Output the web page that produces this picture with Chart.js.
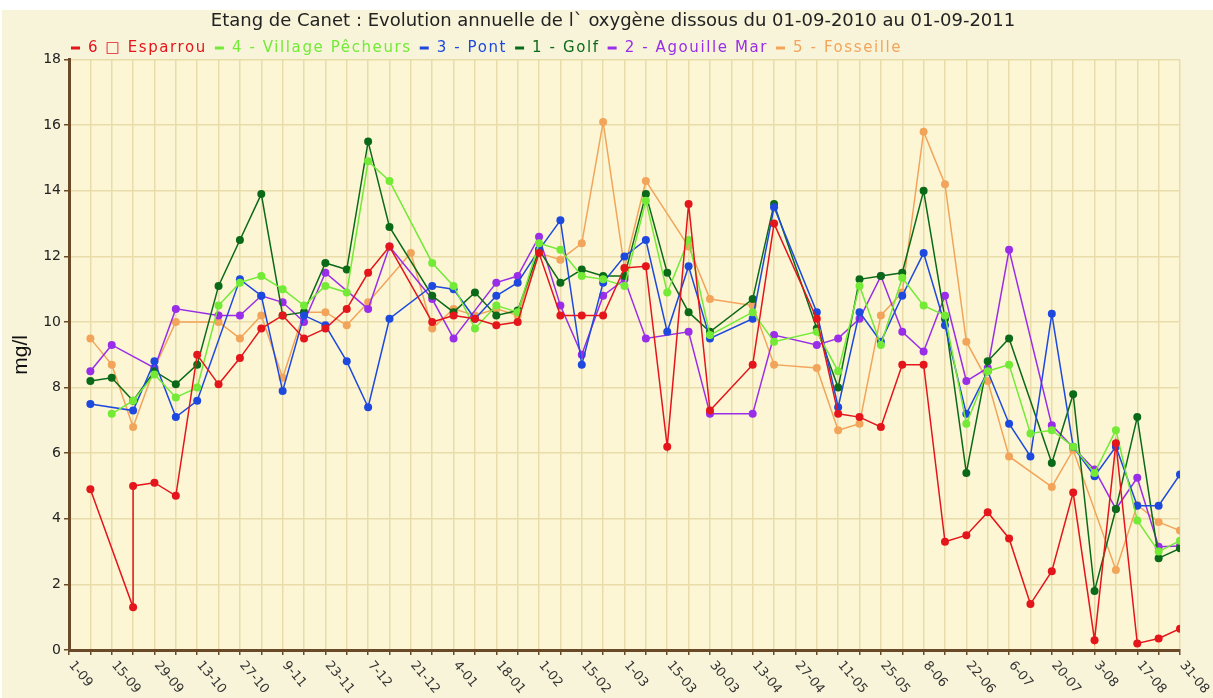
<!DOCTYPE html>
<html>
<head>
<meta charset="utf-8">
<script src="https://cdn.jsdelivr.net/npm/chart.js@4.4.1/dist/chart.umd.min.js"></script>
<style>
html, body { margin: 0; padding: 0; background: #ffffff; }
#wrap { width: 1213px; height: 698px; }
</style>
</head>
<body>
<div id="wrap"><canvas id="oxygenChart" width="1213" height="698"></canvas></div>
<script>
// Libellés de l'axe des x (un toutes les deux positions)
const dateLabels = [
    '1-09', '15-09', '29-09', '13-10', '27-10', '9-11', '23-11', '7-12', '21-12',
    '4-01', '18-01', '1-02', '15-02', '1-03', '15-03', '30-03', '13-04', '27-04',
    '11-05', '25-05', '8-06', '22-06', '6-07', '20-07', '3-08', '17-08', '31-08'
];

// Valeurs par station, positions 1 à 52 (null = pas de mesure, [a, b] = deux mesures)
const esparrou = [
    4.9, null, [1.3, 5.0], 5.1, 4.7, 9.0, 8.1, 8.9, 9.8, 10.2,
    9.5, 9.8, 10.4, 11.5, 12.3, null, 10.0, 10.2, 10.1, 9.9,
    10.0, 12.1, 10.2, 10.2, 10.2, 11.65, 11.7, 6.2, 13.6, 7.3,
    null, 8.7, 13.0, null, 10.1, 7.2, 7.1, 6.8, 8.7, 8.7,
    3.3, 3.5, 4.2, 3.4, 1.4, 2.4, 4.8, 0.3, 6.3, 0.2,
    0.35, 0.65
];
const villagePecheurs = [
    null, 7.2, 7.6, 8.4, 7.7, 8.0, 10.5, 11.2, 11.4, 11.0,
    10.5, 11.1, 10.9, 14.9, 14.3, null, 11.8, 11.1, 9.8, 10.5,
    10.3, 12.4, 12.2, 11.4, 11.3, 11.1, 13.7, 10.9, 12.5, 9.6,
    null, 10.3, 9.4, null, 9.7, 8.5, 11.1, 9.3, 11.35, 10.5,
    10.2, 6.9, 8.5, 8.7, 6.6, 6.7, 6.2, 5.4, 6.7, 3.95,
    3.0, 3.33
];
const pont = [
    7.5, null, 7.3, 8.8, 7.1, 7.6, null, 11.3, 10.8, 7.9,
    10.2, 9.9, 8.8, 7.4, 10.1, null, 11.1, 11.0, 10.1, 10.8,
    11.2, 12.2, 13.1, 8.7, 11.2, 12.0, 12.5, 9.7, 11.7, 9.5,
    null, 10.1, 13.5, null, 10.3, 7.4, 10.3, 9.4, 10.8, 12.1,
    9.9, 7.2, 8.5, 6.9, 5.9, 10.25, 6.2, 5.3, 6.2, 4.4,
    4.4, 5.35
];
const golf = [
    8.2, 8.3, 7.6, 8.5, 8.1, 8.7, 11.1, 12.5, 13.9, 10.2,
    10.3, 11.8, 11.6, 15.5, 12.9, null, 10.8, 10.3, 10.9, 10.2,
    10.35, 12.2, 11.2, 11.6, 11.4, 11.4, 13.9, 11.5, 10.3, 9.7,
    null, 10.7, 13.6, null, 9.8, 8.0, 11.3, 11.4, 11.5, 14.0,
    10.1, 5.4, 8.8, 9.5, null, 5.7, 7.8, 1.8, 4.3, 7.1,
    2.8, 3.1
];
const agouilleMar = [
    8.5, 9.3, null, 8.6, 10.4, null, 10.2, 10.2, 10.8, 10.6,
    10.0, 11.5, null, 10.4, 12.3, null, 10.7, 9.5, null, 11.2,
    11.4, 12.6, 10.5, 9.0, 10.8, 11.3, 9.5, null, 9.7, 7.2,
    null, 7.2, 9.6, null, 9.3, 9.5, 10.1, 11.4, 9.7, 9.1,
    10.8, 8.2, 8.6, 12.2, null, 6.85, null, 5.5, 4.3, 5.25,
    3.15, 3.17
];
const fosseille = [
    9.5, 8.7, 6.8, 8.6, 10.0, null, 10.0, 9.5, 10.2, 8.3,
    10.3, 10.3, 9.9, 10.6, null, 12.1, 9.8, 10.4, 10.2, 10.4,
    10.2, 12.1, 11.9, 12.4, 16.1, 11.65, 14.3, null, 12.3, 10.7,
    null, 10.5, 8.7, null, 8.6, 6.7, 6.9, 10.2, 10.9, 15.8,
    14.2, 9.4, 8.2, 5.9, null, 4.97, 6.1, null, 2.44, 4.42,
    3.9, 3.64
];

const stations = [
    { label: '6 \u25A1 Esparrou', values: esparrou, color: '#e5151c' },
    { label: '4 - Village Pêcheurs', values: villagePecheurs, color: '#72ea36' },
    { label: '3 - Pont', values: pont, color: '#1d49de' },
    { label: '1 - Golf', values: golf, color: '#0b6a18' },
    { label: '2 - Agouille Mar', values: agouilleMar, color: '#9a2ee8' },
    { label: '5 - Fosseille', values: fosseille, color: '#f2a55a' }
];

function toPoints(values) {
    const points = [];
    values.forEach((v, i) => {
        const pos = i + 1;
        if (Array.isArray(v)) {
            v.forEach(y => points.push({ x: pos, y: y }));
        } else {
            points.push({ x: pos, y: v });
        }
    });
    return points;
}

const axisBrown = '#6b4a2a';
const gridTan = '#e9dcaa';

// fond de la page et de la zone de tracé
const backgroundPlugin = {
    id: 'background',
    beforeDraw(chart) {
        const { ctx, chartArea } = chart;
        ctx.save();
        ctx.fillStyle = '#ffffff';
        ctx.fillRect(0, 0, chart.width, chart.height);
        ctx.fillStyle = '#f8f4da';
        ctx.fillRect(2, 10, chart.width - 2, chart.height - 10);
        ctx.fillStyle = '#fcf6d4';
        ctx.fillRect(chartArea.left, chartArea.top, chartArea.right - chartArea.left, chartArea.bottom - chartArea.top);
        ctx.restore();
    },
    afterLayout(chart) {
        // titre centré comme dans l'original
        chart.titleBlock.left = 46;
        chart.titleBlock.right = 1180;
    }
};

// légende : trait court + nom de la station dans sa couleur
const stationLegendPlugin = {
    id: 'stationLegend',
    afterDraw(chart) {
        const { ctx } = chart;
        ctx.save();
        ctx.font = '15px "DejaVu Sans"';
        ctx.letterSpacing = '1.6px';
        ctx.textAlign = 'left';
        ctx.textBaseline = 'middle';
        let x = 71;
        const y = 48;
        chart.data.datasets.forEach(ds => {
            ctx.fillStyle = ds.borderColor;
            ctx.fillRect(x, y - 1.5, 9, 3);
            ctx.fillText(ds.label, x + 17, y);
            x += 17 + ctx.measureText(ds.label).width + 8;
        });
        ctx.restore();
    }
};

// libellés de dates inclinés vers le bas
const dateLabelPlugin = {
    id: 'dateLabels',
    afterDraw(chart) {
        const { ctx, chartArea } = chart;
        const xScale = chart.scales.x;
        ctx.save();
        ctx.font = '13px "DejaVu Sans"';
        ctx.fillStyle = '#333333';
        ctx.textAlign = 'left';
        ctx.textBaseline = 'middle';
        dateLabels.forEach((label, i) => {
            const px = xScale.getPixelForValue(i * 2);
            ctx.save();
            ctx.translate(px + 2, chartArea.bottom + 13);
            ctx.rotate(50 * Math.PI / 180);
            ctx.fillText(label, 0, 0);
            ctx.restore();
        });
        ctx.restore();
    }
};

const ctx = document.getElementById('oxygenChart').getContext('2d');

new Chart(ctx, {
    type: 'line',
    data: {
        datasets: stations.map(s => ({
            label: s.label,
            data: toPoints(s.values),
            borderColor: s.color,
            backgroundColor: s.color,
            pointBackgroundColor: s.color,
            pointBorderWidth: 0,
            pointRadius: 4,
            borderWidth: 1.5,
            spanGaps: true,
            tension: 0
        }))
    },
    options: {
        responsive: false,
        animation: false,
        layout: {
            padding: { left: 3, right: 33, top: 0, bottom: 0 }
        },
        scales: {
            x: {
                type: 'linear',
                min: 0,
                max: 52,
                ticks: {
                    display: false,
                    stepSize: 1,
                    autoSkip: false
                },
                grid: {
                    color: gridTan,
                    lineWidth: 1.5,
                    tickColor: axisBrown,
                    tickLength: 5
                },
                border: { color: axisBrown, width: 3 },
                afterFit(scale) {
                    scale.height = 48;
                }
            },
            y: {
                min: 0,
                max: 18,
                ticks: {
                    stepSize: 2,
                    color: '#222222',
                    padding: 3,
                    font: { family: 'DejaVu Sans', size: 14 }
                },
                grid: {
                    color: gridTan,
                    lineWidth: 1.5,
                    tickColor: axisBrown,
                    tickLength: 5
                },
                border: { color: axisBrown, width: 3 },
                title: {
                    display: true,
                    text: 'mg/l',
                    color: '#111111',
                    font: { family: 'Liberation Sans', size: 21 },
                    padding: { top: 6, bottom: 0 }
                },
                afterFit(scale) {
                    scale.width = 66;
                }
            }
        },
        plugins: {
            title: {
                display: true,
                text: 'Etang de Canet : Evolution annuelle de l` oxygène dissous du 01-09-2010 au 01-09-2011',
                color: '#222222',
                font: { family: 'DejaVu Sans', size: 18, weight: 'normal' },
                padding: { top: 11, bottom: 27 }
            },
            legend: { display: false },
            tooltip: { enabled: false }
        }
    },
    plugins: [backgroundPlugin, stationLegendPlugin, dateLabelPlugin]
});
</script>
</body>
</html>
